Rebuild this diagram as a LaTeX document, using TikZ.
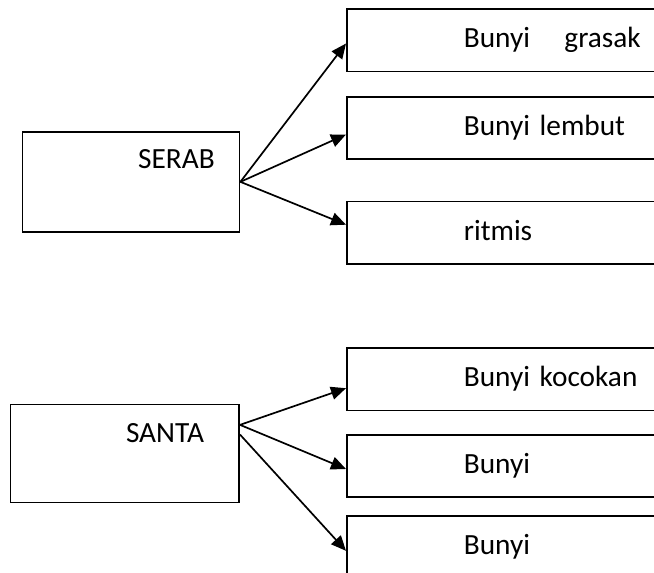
\documentclass[tikz,border=0pt]{standalone}
\usepackage{fontspec}
\setmainfont{Carlito}
\usetikzlibrary{arrows.meta,positioning}
\tikzset{
  root/.style={draw, line width=1.7pt, anchor=north west, inner sep=0pt},
  leaf/.style={draw, line width=1.7pt, anchor=north west, minimum height=62.3pt,
    inner xsep=117pt, inner ysep=0pt, text width=220pt, align=left,
    text height=22pt, text depth=7.4pt, font=\fontsize{29.3}{35}\selectfont},
  tag/.style={anchor=base west, inner sep=0pt, font=\fontsize{29.3}{35}\selectfont},
}
\begin{document}
\begin{tikzpicture}[x=1pt, y=-1pt]
      \clip (0,0) rectangle (654,573);
      % first group
      \node[root, minimum width=217pt, minimum height=100pt] (serab) at (21.7,131) {};
      \node[tag] (serabtxt) at ([xshift=116.3pt, yshift=-37.3pt]serab.north west) {SERAB};
      \node[leaf] (grasak) at (346,8.3) {Bunyi\hspace{34.5pt}grasak};
      \node[leaf] (lembut) at (346,96) {Bunyi lembut};
      \node[leaf] (ritmis) at (346,200.7) {ritmis};
      % second group
      \node[root, minimum width=228.7pt, minimum height=98pt] (santa) at (9.6,403.7) {};
      \node[tag] (santatxt) at ([xshift=116.2pt, yshift=-38.6pt]santa.north west) {SANTA};
      \node[leaf] (kocokan) at (346,347.3) {Bunyi kocokan};
      \node[leaf] (bunyia) at (346,434) {Bunyi};
      \node[leaf] (bunyib) at (346,515.3) {Bunyi};
      \begin{scope}[-{Triangle[length=15pt,width=13pt]}, line width=1.7pt]
        \draw (serab.east) to ([yshift=-3.2pt]grasak.west);
        \draw (serab.east) to ([yshift=-6.5pt]lembut.west);
        \draw (serab.east) to ([yshift=8pt]ritmis.west);
        \draw ([yshift=28.7pt]santa.east) to ([yshift=-8.9pt]kocokan.west);
        \draw ([yshift=28.7pt]santa.east) to ([yshift=-3pt]bunyia.west);
        \draw ([yshift=19pt]santa.east) to ([yshift=-3.5pt]bunyib.west);
      \end{scope}
    \end{tikzpicture}
\end{document}
